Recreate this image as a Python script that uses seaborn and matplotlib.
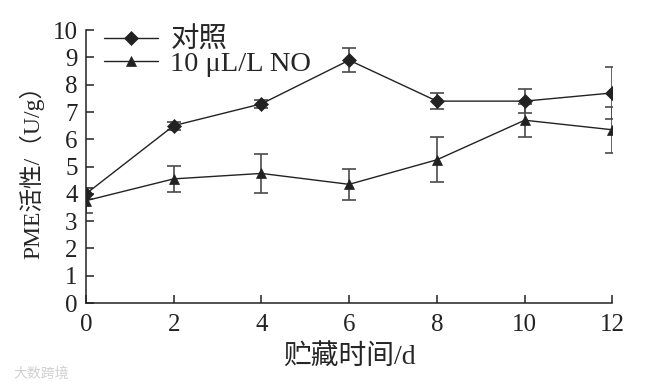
import numpy as np
import pandas as pd
import matplotlib
matplotlib.use('Agg')
import matplotlib.pyplot as plt
import seaborn as sns

# 数据
days = [0, 2, 4, 6, 8, 10, 12]
ctrl = [4.0, 6.5, 7.3, 8.9, 7.4, 7.4, 7.7]
ctrl_err = [0.2, 0.15, 0.15, 0.45, 0.3, 0.45, 0.95]
no = [3.75, 4.55, 4.75, 4.35, 5.25, 6.7, 6.35]
no_err = [0.45, 0.48, 0.7, 0.58, 0.82, 0.6, 0.85]
labels = ['对照', '10 μL/L NO']

sns.set_style('ticks')
plt.rcParams['font.family'] = ['Liberation Serif', 'Noto Sans CJK SC']
plt.rcParams['axes.unicode_minus'] = False

df = pd.DataFrame({
    'day': days * 2,
    'value': ctrl + no,
    'group': [labels[0]] * len(days) + [labels[1]] * len(days),
})

fig = plt.figure(figsize=(6.46, 3.87), dpi=100)
ax = fig.add_axes([0.133, 0.217, 0.815, 0.705])

sns.lineplot(data=df, x='day', y='value', hue='group', style='group',
             markers={labels[0]: 'D', labels[1]: '^'}, dashes=False,
             palette={labels[0]: '#222222', labels[1]: '#222222'},
             markersize=7.5, linewidth=1.0, markeredgecolor='#222222',
             markeredgewidth=0.5, ax=ax)

# 误差线
ax.errorbar(days, ctrl, yerr=ctrl_err, fmt='none', ecolor='#4a4a4a',
            elinewidth=1.2, capsize=5, capthick=1.2, zorder=1)
ax.errorbar(days, no, yerr=no_err, fmt='none', ecolor='#4a4a4a',
            elinewidth=1.2, capsize=5, capthick=1.2, zorder=1)

ax.set_xlim(0, 12)
ax.set_ylim(0, 10)
ax.set_xticks(days)
ax.set_yticks(range(0, 11))
ax.tick_params(direction='in', labelsize=18, length=6, width=1.1, colors='#222222')
ax.tick_params(axis='x', pad=8)
ax.tick_params(axis='y', pad=6)
for s in ['top', 'right']:
    ax.spines[s].set_visible(False)
for s in ['left', 'bottom']:
    ax.spines[s].set_linewidth(1.1)
    ax.spines[s].set_color('#222222')

ax.set_xlabel('贮藏时间/d', fontsize=20, labelpad=6)
ax.set_ylabel('PME活性/（U/g）', fontsize=17, labelpad=6)

leg = ax.legend(loc='upper left', frameon=False, fontsize=20.5,
                bbox_to_anchor=(0.035, 1.01), handlelength=1.9,
                handletextpad=0.42, labelspacing=-0.1, borderaxespad=0,
                borderpad=0)

fig.text(0.02, 0.025, '大数跨境', fontsize=10, color='#d0d0d0',
         family=['Noto Sans CJK SC'])

plt.savefig('out.png', dpi=100)
